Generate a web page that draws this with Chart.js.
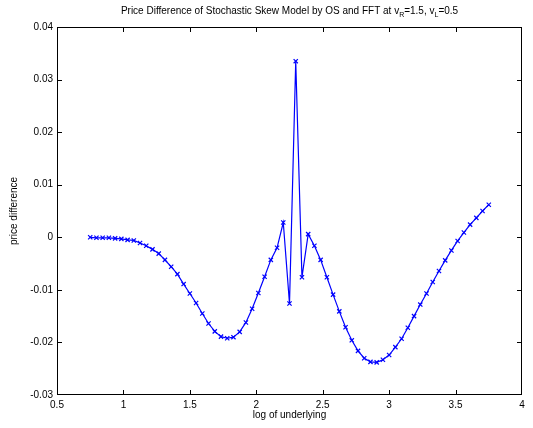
<!DOCTYPE html>
<html>
<head>
<meta charset="utf-8">
<script src="https://cdn.jsdelivr.net/npm/chart.js@4"></script>
<style>
  html, body { margin: 0; padding: 0; background: #ffffff; }
  #wrap { width: 533px; height: 428px; }
</style>
</head>
<body>
<div id="wrap"><canvas id="c" width="533" height="428"></canvas></div>
<script>
// x positions: log of underlying
const logUnderlying = [
  0.75, 0.7969, 0.8438, 0.8906, 0.9375, 0.9844, 1.0313, 1.0781, 1.125, 1.1719,
  1.2188, 1.2656, 1.3125, 1.3594, 1.4063, 1.4531, 1.5, 1.5469, 1.5938, 1.6406,
  1.6875, 1.7344, 1.7813, 1.8281, 1.875, 1.9219, 1.9688, 2.0156, 2.0625, 2.1094,
  2.1563, 2.2031, 2.25, 2.2969, 2.3438, 2.3906, 2.4375, 2.4844, 2.5313, 2.5781,
  2.625, 2.6719, 2.7188, 2.7656, 2.8125, 2.8594, 2.9063, 2.9531, 3.0, 3.0469,
  3.0938, 3.1406, 3.1875, 3.2344, 3.2813, 3.3281, 3.375, 3.4219, 3.4688, 3.5156,
  3.5625, 3.6094, 3.6563, 3.7031, 3.75
];
// price difference (OS - FFT)
const priceDifference = [
  0.0000, -0.0001, -0.0001, -0.0001, -0.0002, -0.0003, -0.0005, -0.0006, -0.0011, -0.0016,
  -0.0023, -0.0031, -0.0043, -0.0056, -0.0070, -0.0089, -0.0107, -0.0125, -0.0145, -0.0164,
  -0.0179, -0.0189, -0.0192, -0.0190, -0.0180, -0.0162, -0.0136, -0.0106, -0.0075, -0.0043,
  -0.0020, 0.0028, -0.0126, 0.0335, -0.0076, 0.0006, -0.0016, -0.0043, -0.0076, -0.0109,
  -0.0141, -0.0171, -0.0196, -0.0216, -0.0230, -0.0237, -0.0238, -0.0233, -0.0224, -0.0209,
  -0.0193, -0.0172, -0.0150, -0.0128, -0.0107, -0.0085, -0.0064, -0.0044, -0.0025, -0.0007,
  0.0009, 0.0024, 0.0037, 0.0050, 0.0062
];
const xTicks = [0.5, 1, 1.5, 2, 2.5, 3, 3.5, 4];
const yTicks = [-0.03, -0.02, -0.01, 0, 0.01, 0.02, 0.03, 0.04];
const xTickLabels = ['0.5', '1', '1.5', '2', '2.5', '3', '3.5', '4'];
const yTickLabels = ['-0.03', '-0.02', '-0.01', '0', '0.01', '0.02', '0.03', '0.04'];
const titleParts = [
  ['Price Difference of Stochastic Skew Model by OS and FFT at v', false],
  ['R', true],
  ['=1.5, v', false],
  ['L', true],
  ['=0.5', false]
];
const xTitle = 'log of underlying';
const yTitle = 'price difference';

const FONT = 'Liberation Sans, Arial, Helvetica, sans-serif';

const points = logUnderlying.map((x, i) => ({ x: x, y: priceDifference[i] }));

const boxPlugin = {
  id: 'matlabBox',
  afterDraw(chart) {
    const ctx = chart.ctx;
    const a = chart.chartArea;
    const xs = chart.scales.x, ys = chart.scales.y;
    ctx.save();
    ctx.fillStyle = '#000000';
    const L = Math.round(a.left), R = Math.round(a.right) - 1;
    const T = Math.round(a.top), B = Math.round(a.bottom) - 1;
    // box
    ctx.fillRect(L, T, R - L + 1, 1);
    ctx.fillRect(L, B, R - L + 1, 1);
    ctx.fillRect(L, T, 1, B - T + 1);
    ctx.fillRect(R, T, 1, B - T + 1);
    const tl = 4;
    xTicks.forEach(v => {
      const px = Math.round(xs.getPixelForValue(v));
      const p = Math.min(Math.max(px, L), R);
      ctx.fillRect(p, B - tl, 1, tl);
      ctx.fillRect(p, T + 1, 1, tl);
    });
    yTicks.forEach(v => {
      const py = Math.round(ys.getPixelForValue(v));
      const p = Math.min(Math.max(py, T), B);
      ctx.fillRect(L + 1, p, tl, 1);
      ctx.fillRect(R - tl, p, tl, 1);
    });
    // title with subscripts
    const mainFont = '10px ' + FONT;
    const subFont = '7px ' + FONT;
    let total = 0;
    titleParts.forEach(p => { ctx.font = p[1] ? subFont : mainFont; total += ctx.measureText(p[0]).width; });
    let x = (a.left + a.right) / 2 - total / 2;
    const base = 14;
    ctx.textBaseline = 'alphabetic';
    ctx.textAlign = 'left';
    titleParts.forEach(p => {
      ctx.font = p[1] ? subFont : mainFont;
      ctx.fillText(p[0], x, p[1] ? base + 3 : base);
      x += ctx.measureText(p[0]).width;
    });
    ctx.restore();
  }
};

new Chart(document.getElementById('c'), {
  type: 'line',
  data: {
    datasets: [{
      data: points,
      borderColor: '#0000ff',
      backgroundColor: '#0000ff',
      borderWidth: 1.2,
      pointStyle: 'crossRot',
      pointRadius: 3,
      pointBorderWidth: 1.2,
      pointBorderColor: '#0000ff',
      pointHoverRadius: 3,
      tension: 0,
      fill: false
    }]
  },
  options: {
    responsive: false,
    animation: false,
    devicePixelRatio: 1,
    layout: { padding: { left: 0, right: 11, top: 27, bottom: 0 } },
    plugins: { legend: { display: false }, tooltip: { enabled: false }, title: { display: false } },
    scales: {
      x: {
        type: 'linear',
        min: 0.5, max: 4,
        afterBuildTicks(scale) { scale.ticks = xTicks.map(v => ({ value: v })); },
        afterFit(scale) { scale.height = 33; },
        grid: { display: false, drawTicks: false },
        border: { display: false },
        ticks: {
          padding: 4,
          color: '#000000',
          font: { family: FONT, size: 10 },
          maxRotation: 0,
          autoSkip: false,
          callback(v) { const i = xTicks.indexOf(v); return i >= 0 ? xTickLabels[i] : ''; }
        },
        title: { display: true, text: xTitle, color: '#000000', font: { family: FONT, size: 10 }, padding: { top: 0, bottom: 7 } }
      },
      y: {
        type: 'linear',
        min: -0.03, max: 0.04,
        afterBuildTicks(scale) { scale.ticks = yTicks.map(v => ({ value: v })); },
        afterFit(scale) { scale.width = 57; },
        grid: { display: false, drawTicks: false },
        border: { display: false },
        ticks: {
          padding: 4,
          color: '#000000',
          font: { family: FONT, size: 10 },
          autoSkip: false,
          callback(v) {
            let idx = -1;
            yTicks.forEach((t, i) => { if (Math.abs(t - v) < 1e-9) idx = i; });
            return idx >= 0 ? yTickLabels[idx] : '';
          }
        },
        title: { display: true, text: yTitle, color: '#000000', font: { family: FONT, size: 10 }, padding: { top: 8, bottom: 0 } }
      }
    }
  },
  plugins: [boxPlugin]
});
</script>
</body>
</html>
